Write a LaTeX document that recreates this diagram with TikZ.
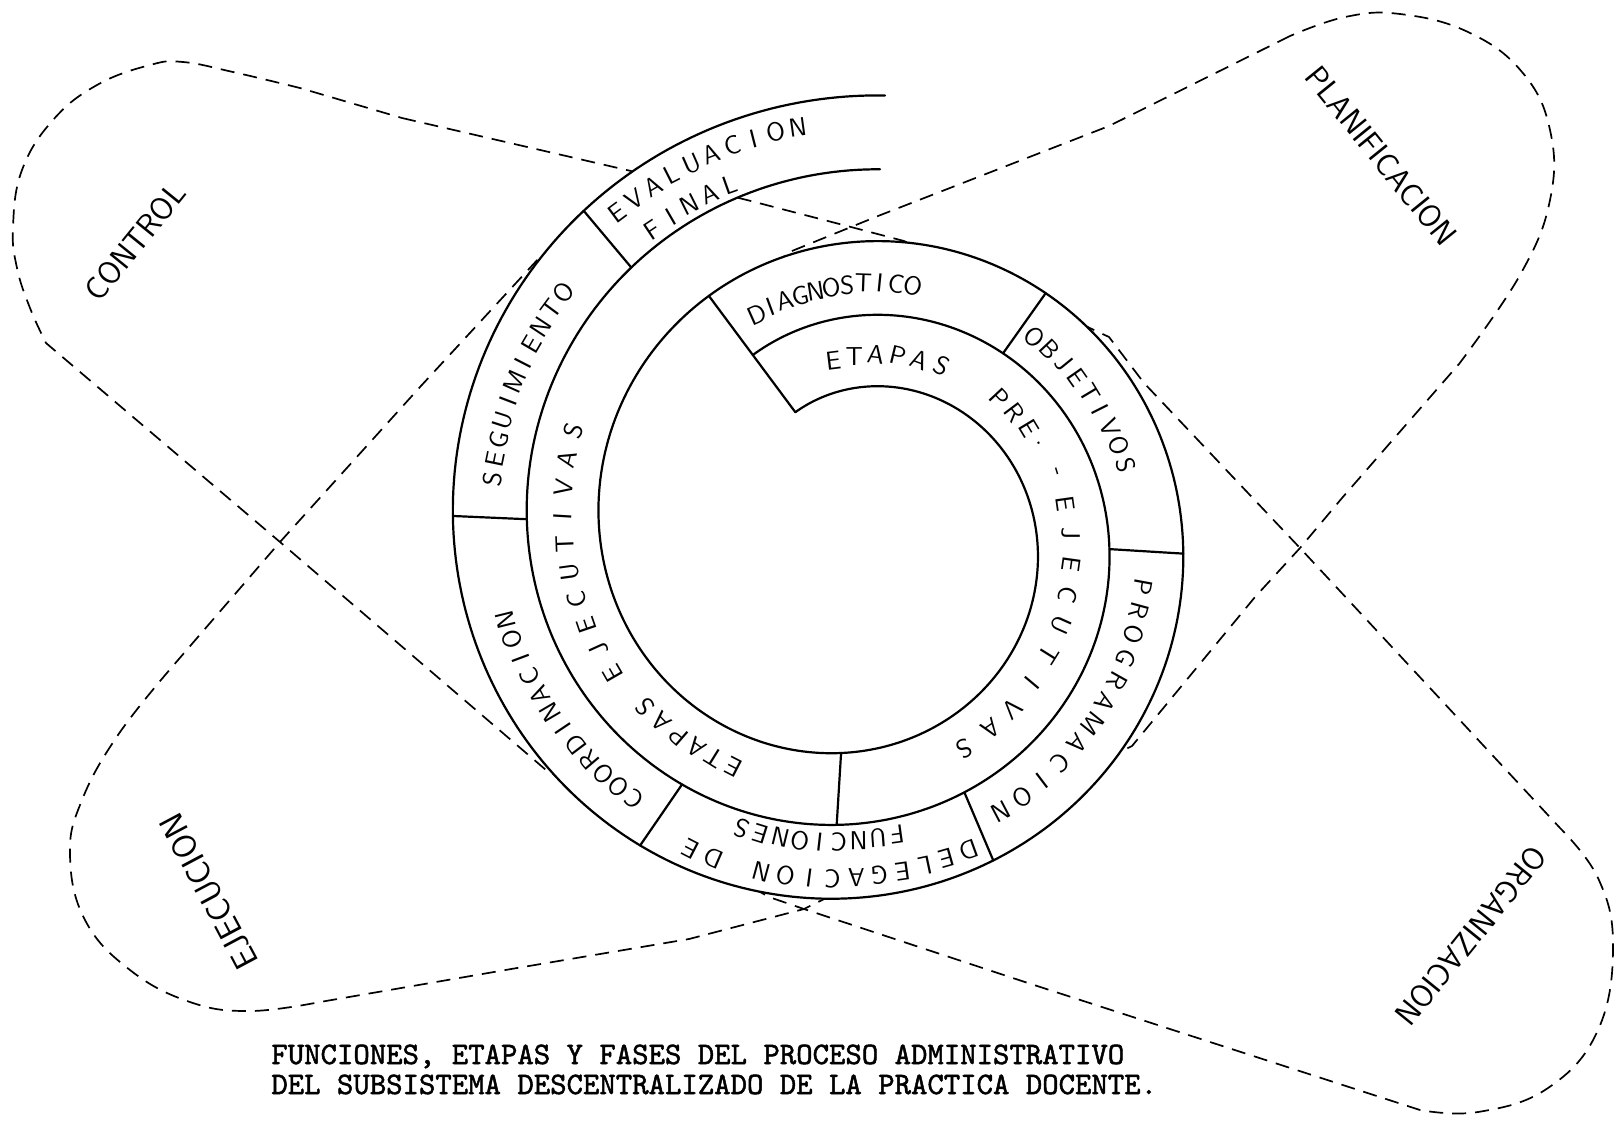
\documentclass[tikz,border=0pt]{standalone}
\usepackage{fontspec}
\newfontfamily\capfont{lmmono10-regular}[Extension=.otf, FakeBold=1.6]
\def\spcx{854.5}
\def\spcy{533.5}
\tikzset{
  ringline/.style={line width=1.1pt, line join=round, line cap=round},
  pill/.style={line width=0.85pt, dash pattern=on 7pt off 4.5pt},
  ringlab/.style={font=\sffamily\fontsize{13}{13}\selectfont, inner sep=0pt},
  outlab/.style={font=\sffamily\fontsize{16}{16}\selectfont, inner sep=0pt},
  captext/.style={font=\capfont\fontsize{15.62}{16}\selectfont, inner sep=0pt, anchor=base west},
}
\newcommand\ringtext[5]{%
  \foreach \ch [count=\i from 0] in {#5}{%
    \pgfmathsetmacro\ff{#2+\i*(#3)}%
    \pgfmathsetmacro\rr{rP(\ff)+#4}%
    \pgfmathsetmacro\rot{-1*\ff}%
    \node[ringlab, rotate=\rot] (#1-\i) at ({\spcx+\rr*sin(\ff)},{\spcy-\rr*cos(\ff)}) {\ch};
  }%
}
\newcommand\ringtextat[3]{%
  \foreach \ch/\ff [count=\i] in {#3}{%
    \pgfmathsetmacro\rr{rP(\ff)+#2}%
    \pgfmathsetmacro\rot{-1*\ff}%
    \node[ringlab, rotate=\rot] (#1-\i) at ({\spcx+\rr*sin(\ff)},{\spcy-\rr*cos(\ff)}) {\ch};
  }%
}
\newcommand\spt[3]{\coordinate (#1) at ({\spcx+(#2)*sin(#3)},{\spcy-(#2)*cos(#3)});}
\begin{document}
\begin{tikzpicture}[x=0.5pt, y=-0.5pt,
  declare function={rP(\t)=145.5+0.405556*\t; rQ(\t)=217.5+0.405556*\t;}]
\useasboundingbox (0,0) rectangle (1616,1121);

% crossing points of the two dashed shapes
\coordinate (TX) at (851,227);
\coordinate (RX) at (1300,548);
\coordinate (BX) at (804,909);
\coordinate (LX) at (280,542);

% pill CONTROL - ORGANIZACION
\draw[pill] (402,118) -- (631,171) -- (747,200) -- (TX) -- (904,241) -- (1109,337) -- (1144,383) -- (RX)
  -- plot[smooth, tension=0.7] coordinates {(1560,828) (1598,878) (1613,945) (1598,1030) (1548,1088) (1478,1112) (1420,1110)}
  -- (1031,984) -- (BX) -- (769,897) -- (546,770) -- (LX)
  -- plot[smooth, tension=0.7] coordinates {(46,343) (30,308) (17,268) (13,227) (22,170) (53,120) (97,85) (150,65) (183,62) (233,72) (300,88)}
  -- (402,118);

% pill EJECUCION - PLANIFICACION
\draw[pill] (1290,36) -- (1109,126) -- (878,216) -- (TX) -- (787,253) -- (760,285) -- (700,300) -- (600,250) -- (540,257) -- (420,387) -- (LX)
  -- plot[smooth, tension=0.7] coordinates {(172,667) (118,735) (82,800) (70,855) (85,920) (130,970) (190,1002) (250,1011) (320,1002)}
  -- (517,968) -- (689,939) -- (BX) -- (1132,746) -- (1255,597) -- (RX) -- (1342,498)
  -- plot[smooth, tension=0.7] coordinates {(1459,364) (1520,275) (1550,200) (1550,130) (1522,72) (1468,32) (1400,14) (1345,17) (1290,36)};

% opaque ring (hides the dashed lines), open top band left unfilled
\fill[white] plot[domain=328.5:724, samples=300, variable=\f] ({\spcx+rP(\f)*sin(\f)},{\spcy-rP(\f)*cos(\f)})
  -- plot[domain=364:328.5, samples=40, variable=\f] ({\spcx+rQ(\f)*sin(\f)},{\spcy-rQ(\f)*cos(\f)}) -- cycle;

% spiral curves
\draw[ringline] plot[domain=-26:724, samples=600, variable=\f] ({\spcx+rP(\f)*sin(\f)},{\spcy-rP(\f)*cos(\f)});
\draw[ringline] plot[domain=-29.7:364, samples=320, variable=\f] ({\spcx+rQ(\f)*sin(\f)},{\spcy-rQ(\f)*cos(\f)});

% radial start line and dividers
\spt{st0}{rP(-26)}{-26}
\spt{st1}{rP(328.5)}{328.5}
\draw[ringline] (st0) -- (st1);
\spt{da}{rQ(39.5)}{39.5}      \spt{db}{rP(398.5)}{398.5}
\spt{ea}{rQ(93.5)}{93.5}      \spt{eb}{rP(453.5)}{453.5}
\spt{fa}{rQ(157)}{157}        \spt{fb}{rP(517)}{517}
\spt{ga}{rQ(214.5)}{214.5}    \spt{gb}{rP(574.5)}{574.5}
\spt{ha}{rQ(272.5)}{272.5}    \spt{hb}{rP(632.5)}{632.5}
\spt{ia}{rQ(320)}{320}        \spt{ib}{rP(680)}{680}
\spt{ja}{rP(183.5)}{183.5}    \spt{jb}{rQ(183.5)}{183.5}
\draw[ringline] (da) -- (db);
\draw[ringline] (ea) -- (eb);
\draw[ringline] (fa) -- (fb);
\draw[ringline] (ga) -- (gb);
\draw[ringline] (ha) -- (hb);
\draw[ringline] (ia) -- (ib);
\draw[ringline] (ja) -- (jb);

% ring labels
\ringtext{diag}{-24}{3.72}{104}{D,I,A,G,N,O,S,T,I,C,O}
\ringtext{etA}{-7}{6.9}{32}{E,T,A,P,A,S}
\ringtext{obj}{42.5}{4.16}{104}{O,B,J,E,T,I,V,O,S}
\ringtextat{pre}{34}{P/47,R/53,E/59,./64,-/73,E/82,J/90,E/98,C/106,U/114,T/122,I/130,V/138,A/145,S/153}
\ringtext{prog}{100.5}{4.7}{107}{P,R,O,G,R,A,M,A,C,I,O,N}
\ringtextat{deleg}{126}{D/160.2,E/164.1,L/168,E/171.9,G/175.8,A/179.7,C/183.6,I/187.5,O/191.4,N/195.3,D/203.5,E/207.4}
\ringtext{func}{172}{3.62}{89}{F,U,N,C,I,O,N,E,S}
\ringtext{etB}{207.3}{4.6}{33}{E,T,A,P,A,S}
\ringtext{ejec}{240}{5.56}{36}{E,J,E,C,U,T,I,V,A,S}
\ringtext{coord}{219.6}{3.32}{110}{C,O,O,R,D,I,N,A,C,I,O,N}
\ringtext{seg}{278.5}{3.11}{107}{S,E,G,U,I,M,I,E,N,T,O}
\ringtext{eval}{323.5}{3.17}{122}{E,V,A,L,U,A,C,I,O,N}
\ringtext{final}{326.4}{3.5}{87}{F,I,N,A,L}

% labels of the four functions
\node[outlab, rotate=51] (control) at (135,242) {CONTROL};
\node[outlab, rotate=-51] (planif) at (1381,156) {PLANIFICACION};
\node[outlab, rotate=-129] (organiz) at (1471,936) {ORGANIZACION};
\node[outlab, rotate=118, font=\sffamily\fontsize{17}{17}\selectfont] (ejecuc) at (209,892) {EJECUCION};

% caption
\node[captext] (cap1) at (271,1064) {FUNCIONES, ETAPAS Y FASES DEL PROCESO ADMINISTRATIVO};
\node[captext] (cap2) at (271,1094) {DEL SUBSISTEMA DESCENTRALIZADO DE LA PRACTICA DOCENTE.};
\end{tikzpicture}
\end{document}
